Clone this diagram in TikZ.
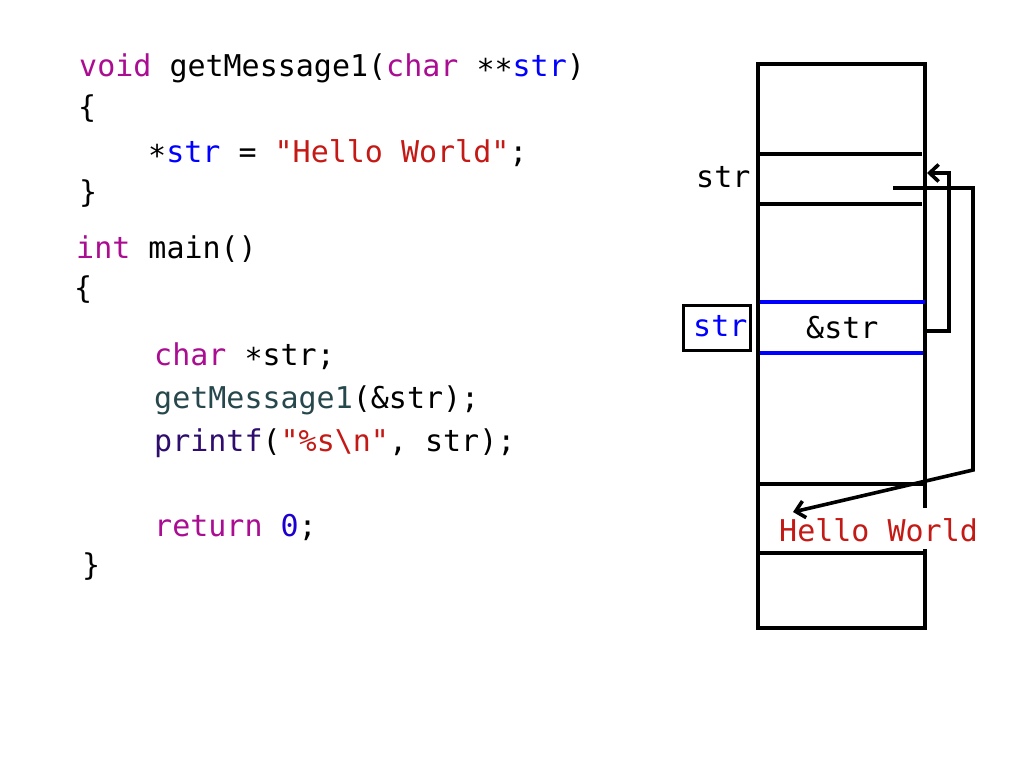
\documentclass[tikz,border=0pt]{standalone}
\usepackage{fontspec}
\setmonofont{DejaVu Sans Mono}
\usetikzlibrary{arrows.meta}
\definecolor{kw}{HTML}{AA0D91}
\definecolor{strc}{HTML}{C41A16}
\definecolor{num}{HTML}{1C00CF}
\definecolor{fn}{HTML}{26474B}
\definecolor{lib}{HTML}{2E0D6E}
\definecolor{var}{HTML}{0000FF}
\newcommand{\lowast}{\raisebox{-4pt}{*}}
\begin{document}
\begin{tikzpicture}[x=1pt,y=-1pt,
  code/.style={anchor=base west,inner sep=0pt,font=\ttfamily\fontsize{30}{36}\selectfont},
  wall/.style={line width=3.6pt},
  blueline/.style={line width=3.6pt,draw=var},
  ptr/.style={line width=3.6pt,-{Straight Barb[length=9pt,width=17pt,line width=3.6pt]}}]
\useasboundingbox (0,0) rectangle (1024,768);
% code
\node[code] (l1) at (79,76) {\textcolor{kw}{void} getMessage1(\textcolor{kw}{char} \lowast\lowast\textcolor{var}{str})};
\node[code] (l2) at (78,117) {\{};
\node[code] (l3) at (148,162) {\lowast\textcolor{var}{str} = \textcolor{strc}{"Hello World"};};
\node[code] (l4) at (79,202) {\}};
\node[code] (l5) at (76,258) {\textcolor{kw}{int} main()};
\node[code] (l6) at (74,298) {\{};
\node[code] (l7) at (154,365) {\textcolor{kw}{char} \lowast str;};
\node[code] (l8) at (154,408) {\textcolor{fn}{getMessage1}(\&str);};
\node[code] (l9) at (154,451) {\textcolor{lib}{printf}(\textcolor{strc}{"\%s\textbackslash n"}, str);};
\node[code] (l10) at (154,536) {\textcolor{kw}{return} \textcolor{num}{0};};
\node[code] (l11) at (82,575) {\}};
% memory
\draw[wall] (925,508) -- (925,64) -- (758,64) -- (758,628) -- (925,628) -- (925,549);
\draw[wall] (758,154) -- (922,154);
\draw[wall] (758,204) -- (922,204);
\draw[wall] (758,484) -- (925,484);
\draw[wall] (758,553) -- (925,553);
\draw[blueline] (760,302) -- (925,302);
\draw[blueline] (760,353) -- (923,353);
\node[code] (strlbl) at (696,187) {str};
\node[code] (amp) at (806,338) {\&str};
\node[code,text=strc] (hello) at (779,541) {Hello World};
\node[draw,line width=3.6pt,minimum width=67pt,minimum height=45pt,inner sep=0pt] (sbox) at (717,328) {};
\node[code,text=var] (sboxt) at (693,336) {str};
% pointers
\coordinate (p1) at (893,188);
\coordinate (p2) at (973,188);
\coordinate (p3) at (973,470);
\coordinate (p4) at (793,512);
\draw[ptr] (p1) -- (p2) -- (p3) -- (p4);
\coordinate (q1) at (925,331);
\coordinate (q2) at (949,331);
\coordinate (q3) at (949,173);
\coordinate (q4) at (927,173);
\draw[ptr] (q1) -- (q2) -- (q3) -- (q4);
\end{tikzpicture}
\end{document}
